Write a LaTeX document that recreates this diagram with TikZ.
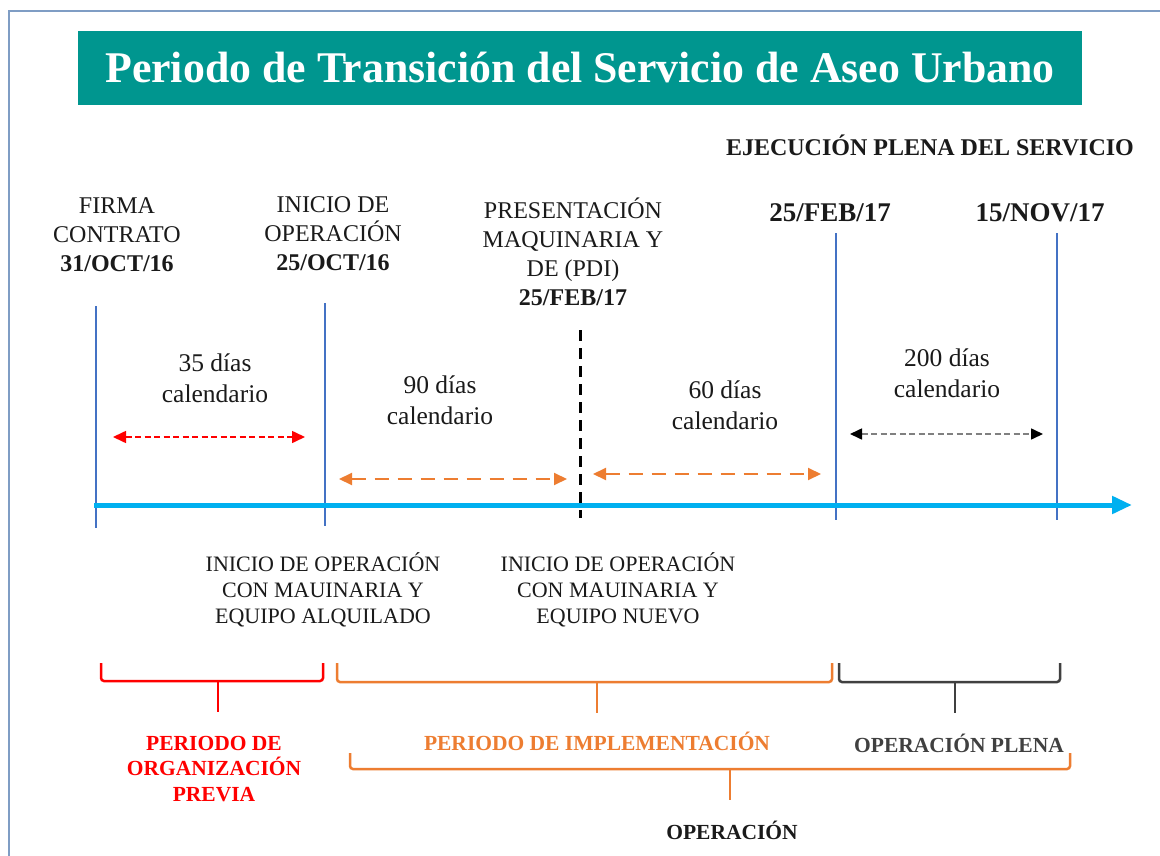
\documentclass[tikz,border=0pt]{standalone}
\usepackage{fontspec}
\setmainfont{Liberation Serif}
\usetikzlibrary{arrows.meta}
\definecolor{teal1}{HTML}{00968F}
\definecolor{frameblue}{HTML}{7F9DC4}
\definecolor{lineblue}{HTML}{4472C4}
\definecolor{axisblue}{HTML}{00B0F0}
\definecolor{orng}{HTML}{ED7D31}
\definecolor{redc}{HTML}{FF0000}
\definecolor{dgray}{HTML}{404040}
\definecolor{txt}{HTML}{1A1A1A}
\begin{document}
\begin{tikzpicture}[x=1pt,y=-1pt,
  lbl/.style={inner sep=0pt, align=center, text=txt, font=\fontsize{24}{29}\selectfont},
  days/.style={inner sep=0pt, align=center, text=txt, font=\fontsize{25.5}{31}\selectfont},
  inic/.style={inner sep=0pt, align=center, text=txt, font=\fontsize{22}{26}\selectfont},
  blab/.style={inner sep=0pt, align=center, font=\bfseries\fontsize{21.5}{25.5}\selectfont},
  vline/.style={draw=lineblue, line width=2.5pt},
  brace/.style={line width=2.5pt, rounded corners=3pt},
  redarrow/.style={redc, line width=1.6pt, dash pattern=on 6pt off 3.5pt, {Triangle[length=13pt,width=12pt]}-{Triangle[length=13pt,width=12pt]}},
  orarrow/.style={orng, line width=2pt, dash pattern=on 14pt off 9pt, {Triangle[length=13pt,width=12pt]}-{Triangle[length=13pt,width=12pt]}},
  blarrow/.style={gray, line width=1.6pt, dash pattern=on 6pt off 3.5pt, {Triangle[length=12pt,width=11pt,color=black]}-{Triangle[length=12pt,width=11pt,color=black]}}
]
\useasboundingbox (0,0) rectangle (1160,856);
\fill[white] (0,0) rectangle (1160,856);
% frame
\draw[frameblue, line width=2.8pt] (9,870) -- (9,11) -- (1175,11);
% title
\node[fill=teal1, minimum width=1004pt, minimum height=74pt, inner sep=0pt] (titlebox) at (580,68) {};
\node[anchor=base, inner sep=0pt, text=white, font=\bfseries\fontsize{43.8}{50}\selectfont] (title) at (580,83) {Periodo de Transición del Servicio de Aseo Urbano};
% top labels
\node[lbl, font=\bfseries\fontsize{24}{29}\selectfont] (ejec) at (930,145) {EJECUCIÓN PLENA DEL SERVICIO};
\node[lbl] (firma) at (117,235) {FIRMA\\CONTRATO\\\textbf{31/OCT/16}};
\node[lbl] (inicio) at (333,234) {INICIO DE\\OPERACIÓN\\\textbf{25/OCT/16}};
\node[lbl] (pres) at (573,252) {PRESENTACIÓN\\MAQUINARIA Y\\DE (PDI)\\\textbf{25/FEB/17}};
\node[lbl, font=\bfseries\fontsize{27}{31}\selectfont] (feb) at (830,213) {25/FEB/17};
\node[lbl, font=\bfseries\fontsize{27}{31}\selectfont] (nov) at (1040,213) {15/NOV/17};
% vertical lines
\coordinate (v1t) at (96,306); \coordinate (v1b) at (96,528);
\coordinate (v2t) at (325,303); \coordinate (v2b) at (325,526);
\coordinate (v3t) at (580,330); \coordinate (v3b) at (580,518);
\coordinate (v4t) at (836,233); \coordinate (v4b) at (836,520);
\coordinate (v5t) at (1057,233); \coordinate (v5b) at (1057,520);
\draw[vline] (v1t) -- (v1b);
\draw[vline] (v2t) -- (v2b);
\draw[vline] (v4t) -- (v4b);
\draw[vline] (v5t) -- (v5b);
\draw[black, line width=3pt, dash pattern=on 11pt off 7pt] (v3t) -- (v3b);
% axis
\coordinate (ax0) at (94,505); \coordinate (ax1) at (1132,505);
\draw[axisblue, line width=5pt, -{Triangle[length=20pt,width=17pt]}] (ax0) -- (ax1);
% day arrows
\coordinate (r0) at (113,437); \coordinate (r1) at (305,437);
\draw[redarrow] (r0) -- (r1);
\coordinate (o0) at (339,479); \coordinate (o1) at (567,479);
\draw[orarrow] (o0) -- (o1);
\coordinate (p0) at (593,474); \coordinate (p1) at (821,474);
\draw[orarrow] (p0) -- (p1);
\coordinate (b0) at (850,434); \coordinate (b1) at (1043,434);
\draw[blarrow] (b0) -- (b1);
% day labels
\node[days] (d35) at (215,378) {35 días\\calendario};
\node[days] (d90) at (440,400) {90 días\\calendario};
\node[days] (d60) at (725,405) {60 días\\calendario};
\node[days] (d200) at (947,373) {200 días\\calendario};
% bottom inicio labels
\node[inic] (alq) at (323,590) {INICIO DE OPERACIÓN\\CON MAUINARIA Y\\EQUIPO ALQUILADO};
\node[inic] (nuevo) at (618,590) {INICIO DE OPERACIÓN\\CON MAUINARIA Y\\EQUIPO NUEVO};
% braces
\draw[brace, redc] (101,663) -- (101,681) -- (323,681) -- (323,663);
\draw[redc, line width=2.5pt] (218,681) -- (218,712);
\draw[brace, orng] (337,663) -- (337,682) -- (832,682) -- (832,663);
\draw[orng, line width=2.5pt] (597,682) -- (597,713);
\draw[brace, dgray] (839,663) -- (839,682) -- (1060,682) -- (1060,663);
\draw[dgray, line width=2.5pt] (955,682) -- (955,713);
\draw[brace, orng] (350,753) -- (350,769) -- (1070,769) -- (1070,753);
\draw[orng, line width=2.5pt] (730,769) -- (730,800);
% bottom labels
\node[blab, text=redc] (org) at (214,769) {PERIODO DE\\ORGANIZACIÓN\\PREVIA};
\node[blab, text=orng] (impl) at (597,741) {PERIODO DE IMPLEMENTACIÓN};
\node[blab, text=dgray] (plena) at (959,743) {OPERACIÓN PLENA};
\node[blab, text=txt] (oper) at (732,830) {OPERACIÓN};
\end{tikzpicture}
\end{document}
